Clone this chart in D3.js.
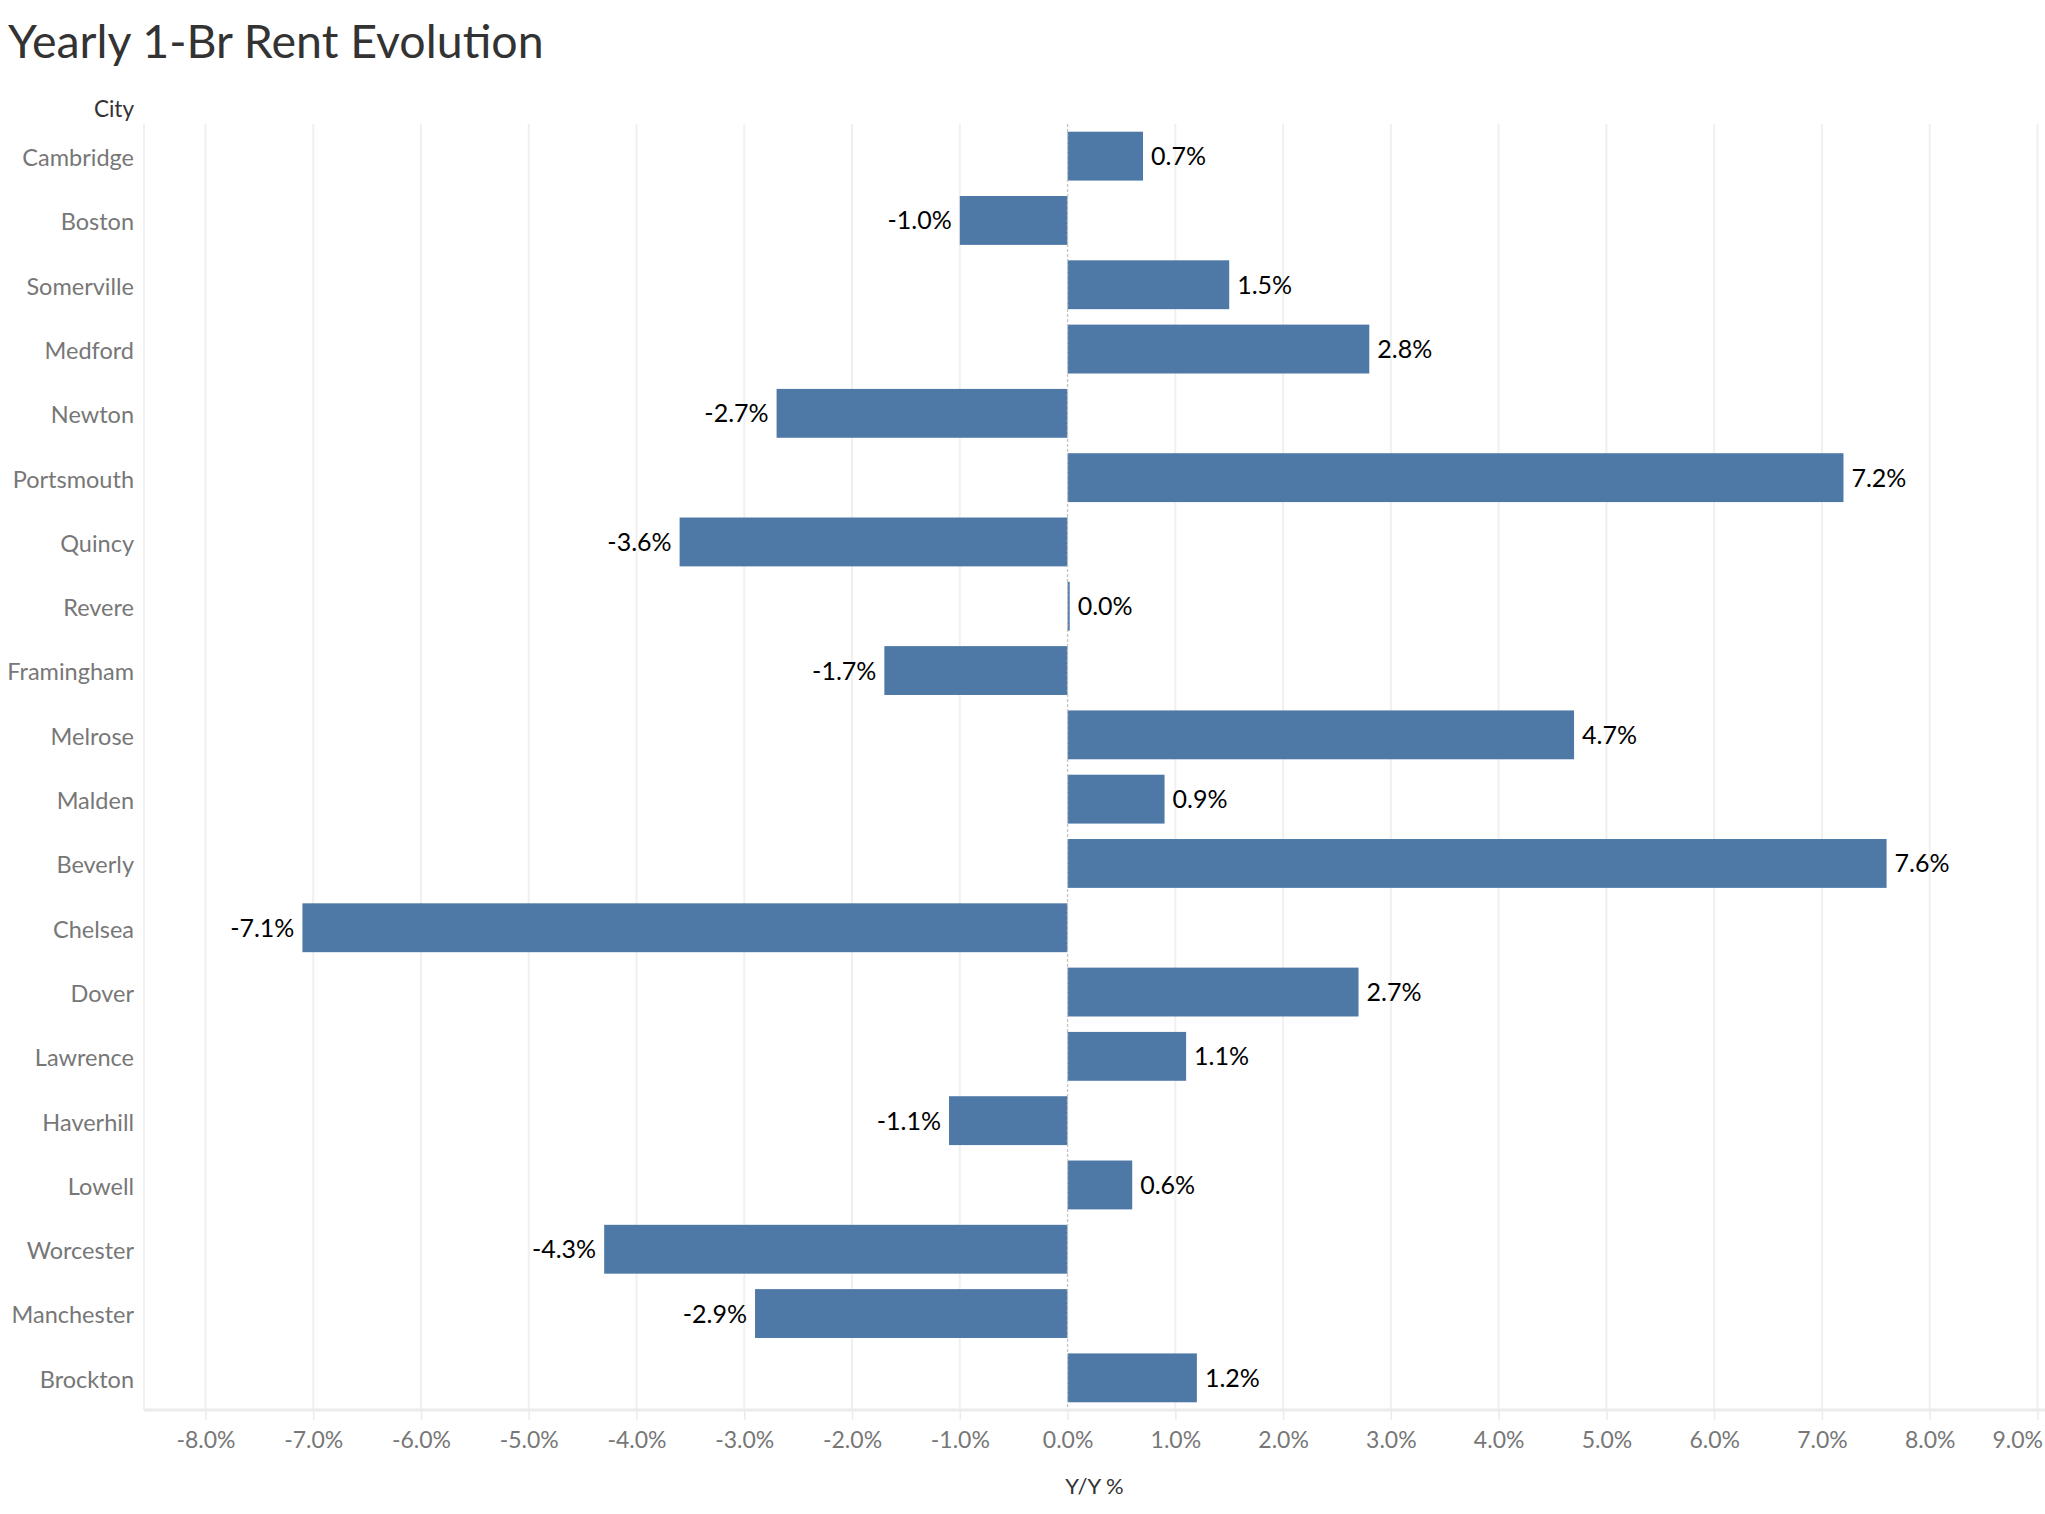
<!DOCTYPE html>
<html><head><meta charset="utf-8">
<script src="https://cdn.jsdelivr.net/npm/d3@7"></script>
<style>
html,body{margin:0;padding:0;background:#fff;}
svg{display:block;}
</style></head>
<body>
<svg id="chart" width="2045" height="1514"></svg>
<script>
const cities = ["Cambridge","Boston","Somerville","Medford","Newton","Portsmouth","Quincy","Revere","Framingham","Melrose","Malden","Beverly","Chelsea","Dover","Lawrence","Haverhill","Lowell","Worcester","Manchester","Brockton"];
const yoy = [0.7,-1.0,1.5,2.8,-2.7,7.2,-3.6,0.02,-1.7,4.7,0.9,7.6,-7.1,2.7,1.1,-1.1,0.6,-4.3,-2.9,1.2];
const tickValues = [-8,-7,-6,-5,-4,-3,-2,-1,0,1,2,3,4,5,6,7,8,9];
const title = "Yearly 1-Br Rent Evolution";
const yTitle = "City";
const xTitle = "Y/Y %";

const W = 2045, H = 1514;
const m = {left:144, right:0, top:124, bottom:104};
const svg = d3.select("#chart");
const font = "Lato, 'Open Sans', sans-serif";

const x = d3.scaleLinear().domain([-8.57, 9.07]).range([m.left, W - m.right]);
const y = d3.scaleBand().domain(cities).range([m.top, H - m.bottom]).paddingInner(0.24).paddingOuter(0.12);

// title
svg.append("text").attr("x", 8).attr("y", 58).attr("font-family", font)
  .attr("font-size", 46.5).attr("fill", "#333").text(title);

// gridlines
svg.append("g").selectAll("line").data(tickValues.filter(d => d !== 0)).join("line")
  .attr("x1", d => x(d)).attr("x2", d => x(d))
  .attr("y1", m.top).attr("y2", H - m.bottom)
  .attr("stroke", "#f0f0f0").attr("stroke-width", 2);
// left border
svg.append("line").attr("x1", m.left).attr("x2", m.left).attr("y1", m.top).attr("y2", H - m.bottom)
  .attr("stroke", "#f0f0f0").attr("stroke-width", 2);

// bars
svg.append("g").selectAll("rect").data(cities).join("rect")
  .attr("x", (d,i) => Math.min(x(0), x(yoy[i])))
  .attr("width", (d,i) => Math.abs(x(yoy[i]) - x(0)))
  .attr("y", d => y(d)).attr("height", y.bandwidth())
  .attr("fill", "#4e79a7");

// zero line
svg.append("line").attr("x1", x(0)).attr("x2", x(0)).attr("y1", m.top).attr("y2", H - m.bottom)
  .attr("stroke", "#c4c4c4").attr("stroke-width", 1.3).attr("stroke-dasharray", "3,2");

// value labels
svg.append("g").selectAll("text").data(cities).join("text")
  .attr("x", (d,i) => yoy[i] >= 0 ? x(yoy[i]) + 8 : x(yoy[i]) - 8)
  .attr("y", d => y(d) + y.bandwidth()/2)
  .attr("dy", "0.36em")
  .attr("text-anchor", (d,i) => yoy[i] >= 0 ? "start" : "end")
  .attr("font-family", font).attr("font-size", 25).attr("fill", "#000")
  .text((d,i) => yoy[i].toFixed(1) + "%");

// y axis labels
const yAxis = svg.append("g").attr("transform", `translate(${m.left},0)`)
  .call(d3.axisLeft(y).tickSize(0).tickPadding(10));
yAxis.select(".domain").remove();
yAxis.selectAll("text").attr("font-family", font).attr("font-size", 23.5).attr("fill", "#777").attr("dy", "0.42em");

svg.append("text").attr("x", m.left - 10).attr("y", 117).attr("text-anchor", "end")
  .attr("font-family", font).attr("font-size", 22.5).attr("fill", "#333").text(yTitle);

// x axis
const xAxis = svg.append("g").attr("transform", `translate(0,${H - m.bottom})`)
  .call(d3.axisBottom(x).tickValues(tickValues).tickSize(10).tickPadding(12)
    .tickFormat(d => d.toFixed(1) + "%"));
xAxis.select(".domain").attr("d", `M${m.left},0H${W}`).attr("stroke", "#ebebeb").attr("stroke-width", 3);
xAxis.selectAll(".tick line").attr("stroke", "#ebebeb").attr("stroke-width", 1.5);
xAxis.selectAll("text").attr("font-family", font).attr("font-size", 23).attr("fill", "#777");
xAxis.selectAll(".tick text").each(function(){
  const bb = this.getBBox();
  const tx = +d3.select(this.parentNode).attr("transform").match(/translate\(([^,]+)/)[1];
  const over = tx + bb.x + bb.width - (W - 2);
  if (over > 0) d3.select(this).attr("x", -over);
});

svg.append("text").attr("x", (m.left + W)/2).attr("y", 1494).attr("text-anchor", "middle")
  .attr("font-family", font).attr("font-size", 22).attr("fill", "#333").text(xTitle);
</script>
</body></html>
